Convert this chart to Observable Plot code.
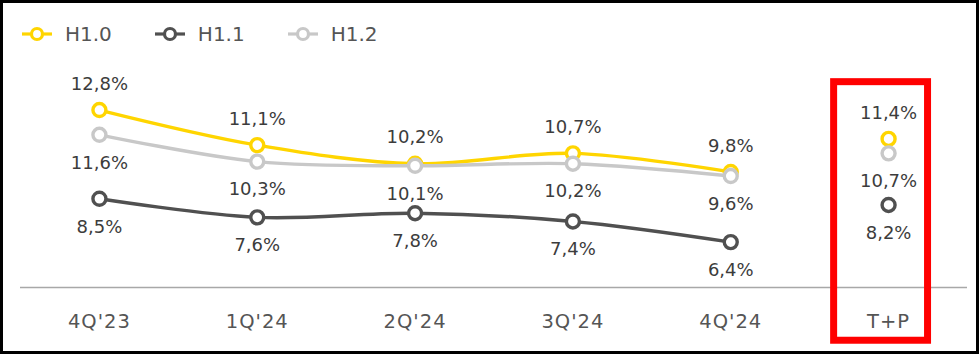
<!DOCTYPE html>
<html>
<head>
<meta charset="utf-8">
<script src="https://cdn.jsdelivr.net/npm/d3@7"></script>
<script src="https://cdn.jsdelivr.net/npm/@observablehq/plot@0.6"></script>
<style>
  body { margin: 0; background: #fff; }
  #wrap { position: relative; width: 979px; height: 354px; overflow: hidden; background: #fff;
          font-family: "DejaVu Sans", sans-serif; }
  #chart svg { position: absolute; left: 0; top: 0; }
  #border { position: absolute; left: 0; top: 0; right: 0; bottom: 0; border: 3px solid #000; pointer-events: none; }
  #legend { position: absolute; left: 22px; top: 22px; display: flex; align-items: center; }
  .item { display: flex; align-items: center; margin-right: 43px; }
  .item svg { display: block; margin-right: 13px; }
  .item span { font-size: 20px; color: #555; line-height: 24px; }
  g[aria-label="highlight"] { filter: drop-shadow(3px 3px 2px rgba(0,0,0,0.6)); }
  g[aria-label="x-axis tick label"] text { letter-spacing: 1px; }
</style>
</head>
<body>
<div id="wrap">
  <div id="chart"></div>
  <div id="legend"></div>
  <div id="border"></div>
</div>
<script>
// ---- data ----
const categories = ["4Q'23", "1Q'24", "2Q'24", "3Q'24", "4Q'24", "T+P"];
const seriesNames = ["H1.0", "H1.1", "H1.2"];
const h10 = [12.8, 11.1, 10.2, 10.7, 9.8, 11.4];
const h11 = [8.5, 7.6, 7.8, 7.4, 6.4, 8.2];
const h12 = [11.6, 10.3, 10.1, 10.2, 9.6, 10.7];
const highlighted = ["T+P"];

// ---- styling ----
const colors = { "H1.0": "#FFD500", "H1.1": "#505050", "H1.2": "#C8C8C8" };
const labelOffset = { "H1.0": -26, "H1.1": 28, "H1.2": 28 };
const quarterCount = 5; // trend lines connect the quarterly points only
const yMin = 4.2, yMax = 15.2;

const fmt = v => v.toFixed(1).replace(".", ",") + "%";
const rows = vals => vals.map((v, i) => ({ i, v }));
const series = { "H1.0": h10, "H1.1": h11, "H1.2": h12 };

function seriesMarks(name) {
  const data = rows(series[name]);
  const c = colors[name];
  return [
    Plot.line(data.slice(0, quarterCount), { x: "i", y: "v", stroke: c, strokeWidth: 3.4, curve: "catmull-rom" }),
    Plot.dot(data, { x: "i", y: "v", r: 6.5, fill: "white", stroke: c, strokeWidth: 3.4 }),
    Plot.text(data, { x: "i", y: "v", text: d => fmt(d.v), dy: labelOffset[name], fontSize: 18, fill: "#3c3c3c" })
  ];
}

const hiIdx = highlighted.map(h => categories.indexOf(h));

const chart = Plot.plot({
  width: 979,
  height: 354,
  marginLeft: 20,
  marginRight: 12,
  marginTop: 60,
  marginBottom: 67,
  style: { fontFamily: "DejaVu Sans, sans-serif", background: "transparent", overflow: "visible" },
  x: { domain: [-0.5, categories.length - 0.5], label: null },
  y: { domain: [yMin, yMax], axis: null },
  marks: [
    Plot.ruleY([yMin], { stroke: "#a8a8a8", strokeWidth: 1.5 }),
    Plot.axisX({ ticks: categories.map((_, i) => i), tickFormat: i => categories[i], tickSize: 0, tickPadding: 27,
      fontSize: 19.5, color: "#555", label: null }),
    ...seriesMarks("H1.0"),
    ...seriesMarks("H1.2"),
    ...seriesMarks("H1.1"),
    Plot.rect(hiIdx, { x1: i => i - 0.345, x2: i => i + 0.25, y1: () => 1.62, y2: () => 14.15,
      fill: "none", stroke: "#FF0000", strokeWidth: 7, ariaLabel: "highlight" })
  ]
});
document.getElementById("chart").appendChild(chart);

// ---- legend ----
const legend = document.getElementById("legend");
for (const name of seriesNames) {
  const item = document.createElement("div");
  item.className = "item";
  item.innerHTML = `<svg width="30" height="16"><line x1="0" x2="30" y1="8" y2="8" stroke="${colors[name]}" stroke-width="3.2"/><circle cx="15" cy="8" r="5.5" fill="white" stroke="${colors[name]}" stroke-width="3.2"/></svg><span>${name}</span>`;
  legend.appendChild(item);
}
</script>
</body>
</html>
